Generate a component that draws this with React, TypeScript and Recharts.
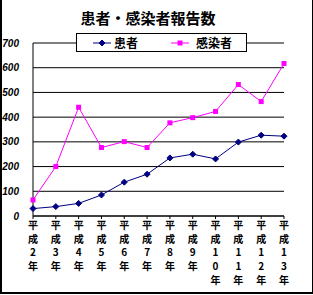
import { CartesianGrid, Line, LineChart, XAxis, YAxis } from "recharts";

const years = ["2", "3", "4", "5", "6", "7", "8", "9", "10", "11", "12", "13"];
const patients = [30, 38, 51, 85, 137, 169, 235, 250, 231, 299, 327, 323];
const infected = [65, 200, 440, 277, 301, 277, 377, 398, 423, 532, 463, 617];
const yTicks = [0, 100, 200, 300, 400, 500, 600, 700];

const data = years.map((y, i) => ({
  year: y,
  patients: patients[i],
  infected: infected[i],
}));

const NAVY = "#000080";
const MAGENTA = "#FF00FF";
const JP = "'Noto Sans CJK JP', 'Noto Sans', sans-serif";

function Diamond(props: any) {
  const { cx, cy } = props;
  if (cx == null || cy == null) return null;
  return (
    <path
      key={`d-${cx}`}
      d={`M${cx},${cy - 3}L${cx + 3},${cy}L${cx},${cy + 3}L${cx - 3},${cy}Z`}
      fill={NAVY}
      stroke={NAVY}
    />
  );
}

function Square(props: any) {
  const { cx, cy } = props;
  if (cx == null || cy == null) return null;
  return (
    <rect key={`s-${cx}`} x={cx - 2.5} y={cy - 2.5} width={5} height={5} fill={MAGENTA} />
  );
}

function YearTick(props: any) {
  const { x, y, payload } = props;
  const chars = ["平", "成", ...String(payload.value).split(""), "年"];
  return (
    <g>
      {chars.map((c, i) => (
        <text
          key={i}
          x={x}
          y={y + 10 + i * 13.7}
          textAnchor="middle"
          fontSize={10}
          fontWeight="bold"
          fontFamily={JP}
          fill="#000"
        >
          {c}
        </text>
      ))}
    </g>
  );
}

function ChartLegend() {
  return (
    <div
      style={{
        position: "absolute",
        left: 76,
        top: 33,
        width: 169,
        height: 17,
        border: "1px solid #000",
        background: "#fff",
      }}
    >
      <svg width={169} height={17} style={{ position: "absolute", left: 0, top: 0 }}>
        <line x1={16} x2={34} y1={9} y2={9} stroke={NAVY} />
        <Diamond cx={25} cy={9} />
        <text x={37} y={13.5} fontSize={12} fontWeight="bold" fontFamily={JP}>
          患者
        </text>
        <line x1={94} x2={112} y1={9} y2={9} stroke={MAGENTA} />
        <Square cx={103} cy={9} />
        <text x={119} y={13.5} fontSize={12} fontWeight="bold" fontFamily={JP}>
          感染者
        </text>
      </svg>
    </div>
  );
}

export default function App() {
  return (
    <div
      style={{
        position: "absolute",
        left: 0,
        top: 0,
        width: 313,
        height: 295,
        background: "#fff",
      }}
    >
      <div
        style={{
          position: "absolute",
          left: 0,
          top: 0,
          width: 310,
          height: 292,
          borderLeft: "2px solid #000",
          borderRight: "2px solid #000",
          borderBottom: "2px solid #000",
        }}
      />
      <div
        style={{
          position: "absolute",
          left: 0,
          top: 9,
          width: 296,
          textAlign: "center",
          fontFamily: JP,
          fontWeight: "bold",
          fontSize: 15,
          lineHeight: "18px",
        }}
      >
        患者・感染者報告数
      </div>
      <div style={{ position: "absolute", left: 0, top: 0 }}>
        <LineChart
          width={313}
          height={295}
          data={data}
          margin={{ top: 43, right: 29, bottom: 0, left: 0 }}
        >
          <CartesianGrid vertical={false} stroke="#000" strokeWidth={1} />
          <XAxis
            dataKey="year"
            height={79}
            interval={0}
            tickSize={3}
            tickMargin={0}
            tickLine={{ stroke: "#000" }}
            axisLine={{ stroke: "#000" }}
            tick={<YearTick />}
          />
          <YAxis
            width={33}
            domain={[0, 700]}
            ticks={yTicks}
            interval={0}
            tickLine={false}
            axisLine={{ stroke: "#000" }}
            tickMargin={8}
            tick={{
              fill: "#000",
              fontSize: 10,
              fontWeight: "bold",
              fontStyle: "italic",
              fontFamily: "Arial, 'Liberation Sans', sans-serif",
            }}
          />
          <Line
            dataKey="patients"
            stroke={NAVY}
            strokeWidth={1}
            dot={<Diamond />}
            activeDot={false}
            isAnimationActive={false}
          />
          <Line
            dataKey="infected"
            stroke={MAGENTA}
            strokeWidth={1}
            dot={<Square />}
            activeDot={false}
            isAnimationActive={false}
          />
        </LineChart>
      </div>
      <ChartLegend />
    </div>
  );
}
